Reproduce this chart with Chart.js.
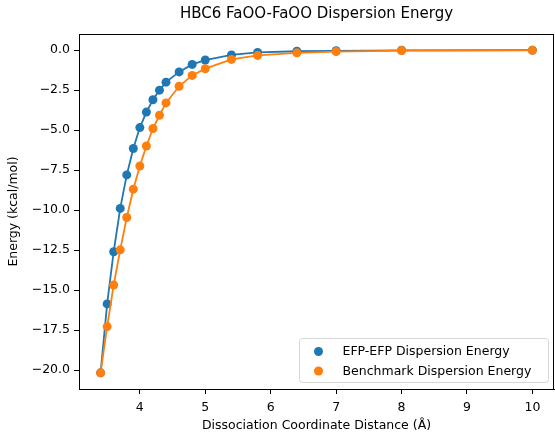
<!DOCTYPE html>
<html>
<head>
<meta charset="utf-8">
<script src="https://cdn.jsdelivr.net/npm/chart.js@4/dist/chart.umd.min.js"></script>
<style>
  html, body { margin: 0; padding: 0; background: #fff; }
  canvas { display: block; }
</style>
</head>
<body>
<canvas id="chart" width="555" height="433"></canvas>
<script>
// Dissociation coordinate distances (Å)
const distances = [3.4, 3.5, 3.6, 3.7, 3.8, 3.9, 4.0, 4.1, 4.2, 4.3, 4.4, 4.6, 4.8, 5.0, 5.4, 5.8, 6.4, 7.0, 8.0, 10.0];
// EFP-EFP dispersion energy (kcal/mol)
const efpEnergy = [-20.17, -15.86, -12.60, -9.89, -7.80, -6.15, -4.84, -3.87, -3.10, -2.50, -2.00, -1.36, -0.89, -0.62, -0.30, -0.14, -0.07, -0.04, -0.01, 0.0];
// Benchmark dispersion energy (kcal/mol)
const benchEnergy = [-20.17, -17.28, -14.68, -12.48, -10.46, -8.69, -7.24, -5.99, -4.90, -4.07, -3.30, -2.26, -1.58, -1.16, -0.58, -0.33, -0.17, -0.09, -0.03, -0.01];
// Axis ticks
const xTicks = [4, 5, 6, 7, 8, 9, 10];
const yTicks = [0, -2.5, -5, -7.5, -10, -12.5, -15, -17.5, -20];

const BLUE = '#1f77b4';
const ORANGE = '#ff7f0e';
const FONT = "'DejaVu Sans', sans-serif";

const toPoints = (ys) => distances.map((x, i) => ({ x: x, y: ys[i] }));

// 5% margins around the data range on both axes
const xSpan = Math.max(...distances) - Math.min(...distances);
const allY = efpEnergy.concat(benchEnergy);
const yLo = Math.min(...allY), yHi = Math.max(...allY);
const ySpan = yHi - yLo;

// Top and right frame lines
const framePlugin = {
  id: 'frame',
  afterDraw(chart) {
    const { ctx, chartArea: a } = chart;
    ctx.save();
    ctx.strokeStyle = '#000';
    ctx.lineWidth = 1;
    ctx.beginPath();
    ctx.moveTo(a.left, a.top + 0.5);
    ctx.lineTo(a.right, a.top + 0.5);
    ctx.moveTo(a.right - 0.5, a.top);
    ctx.lineTo(a.right - 0.5, a.bottom);
    ctx.stroke();
    ctx.restore();
  }
};

// Marker-only legend box in the lower right corner
const legendPlugin = {
  id: 'markerLegend',
  afterDraw(chart) {
    const { ctx, chartArea: a } = chart;
    const entries = [
      { label: 'EFP-EFP Dispersion Energy', color: BLUE },
      { label: 'Benchmark Dispersion Energy', color: ORANGE }
    ];
    const w = 249, h = 44;
    const x0 = a.right - 5.5 - w, y0 = a.bottom - 6.5 - h;
    ctx.save();
    ctx.beginPath();
    ctx.roundRect(x0, y0, w, h, 3);
    ctx.fillStyle = 'rgba(255,255,255,0.8)';
    ctx.fill();
    ctx.strokeStyle = '#d6d6d6';
    ctx.lineWidth = 1;
    ctx.stroke();
    ctx.font = '12.5px ' + FONT;
    ctx.textBaseline = 'middle';
    entries.forEach((e, i) => {
      const cy = y0 + 13 + i * 19.5;
      ctx.beginPath();
      ctx.arc(x0 + 19, cy, 4.5, 0, Math.PI * 2);
      ctx.fillStyle = e.color;
      ctx.fill();
      ctx.fillStyle = '#000';
      ctx.fillText(e.label, x0 + 43, cy + 0.5);
    });
    ctx.restore();
  }
};

new Chart(document.getElementById('chart'), {
  type: 'scatter',
  data: {
    datasets: [
      {
        label: 'EFP-EFP Dispersion Energy',
        data: toPoints(efpEnergy),
        showLine: true,
        borderColor: BLUE,
        backgroundColor: BLUE,
        borderWidth: 1.8,
        pointRadius: 4.5,
        pointBorderWidth: 0,
        pointBackgroundColor: BLUE,
        order: 2
      },
      {
        label: 'Benchmark Dispersion Energy',
        data: toPoints(benchEnergy),
        showLine: true,
        borderColor: ORANGE,
        backgroundColor: ORANGE,
        borderWidth: 1.8,
        pointRadius: 4.5,
        pointBorderWidth: 0,
        pointBackgroundColor: ORANGE,
        order: 1
      }
    ]
  },
  options: {
    responsive: false,
    devicePixelRatio: 1,
    animation: false,
    layout: { autoPadding: false, padding: { top: 0, right: 1, bottom: 0, left: 0 } },
    plugins: {
      legend: { display: false },
      tooltip: { enabled: false },
      title: {
        display: true,
        text: 'HBC6 FaOO-FaOO Dispersion Energy',
        fullSize: false,
        color: '#000',
        font: { family: FONT, size: 15, weight: 'normal', lineHeight: 1.2 },
        padding: { top: 5, bottom: 11 }
      }
    },
    scales: {
      x: {
        type: 'linear',
        min: Math.min(...distances) - 0.05 * xSpan,
        max: Math.max(...distances) + 0.05 * xSpan,
        afterBuildTicks: (s) => { s.ticks = xTicks.map(v => ({ value: v })); },
        afterFit: (s) => { s.height = 44; },
        border: { display: true, color: '#000', width: 1 },
        grid: { display: true, drawOnChartArea: false, drawTicks: true, tickLength: 5, color: '#000', lineWidth: 1 },
        ticks: {
          color: '#000',
          padding: 6,
          maxRotation: 0,
          font: { family: FONT, size: 12.5 },
          callback: (v) => String(v)
        },
        title: {
          display: true,
          text: 'Dissociation Coordinate Distance (Å)',
          color: '#000',
          font: { family: FONT, size: 12.5, lineHeight: 1.2 },
          padding: { top: 0, bottom: 0 }
        }
      },
      y: {
        type: 'linear',
        min: yLo - 0.05 * ySpan,
        max: yHi + 0.05 * ySpan,
        afterBuildTicks: (s) => { s.ticks = yTicks.map(v => ({ value: v })); },
        afterFit: (s) => { s.width = 79; },
        border: { display: true, color: '#000', width: 1 },
        grid: { display: true, drawOnChartArea: false, drawTicks: true, tickLength: 5, color: '#000', lineWidth: 1 },
        ticks: {
          color: '#000',
          padding: 4,
          font: { family: FONT, size: 12.5 },
          callback: (v) => v.toFixed(1).replace('-', '\u2212')
        },
        title: {
          display: true,
          text: 'Energy (kcal/mol)',
          color: '#000',
          font: { family: FONT, size: 12.5, lineHeight: 1.2 },
          padding: { top: 6.5, bottom: 0 }
        }
      }
    }
  },
  plugins: [framePlugin, legendPlugin]
});
</script>
</body>
</html>
